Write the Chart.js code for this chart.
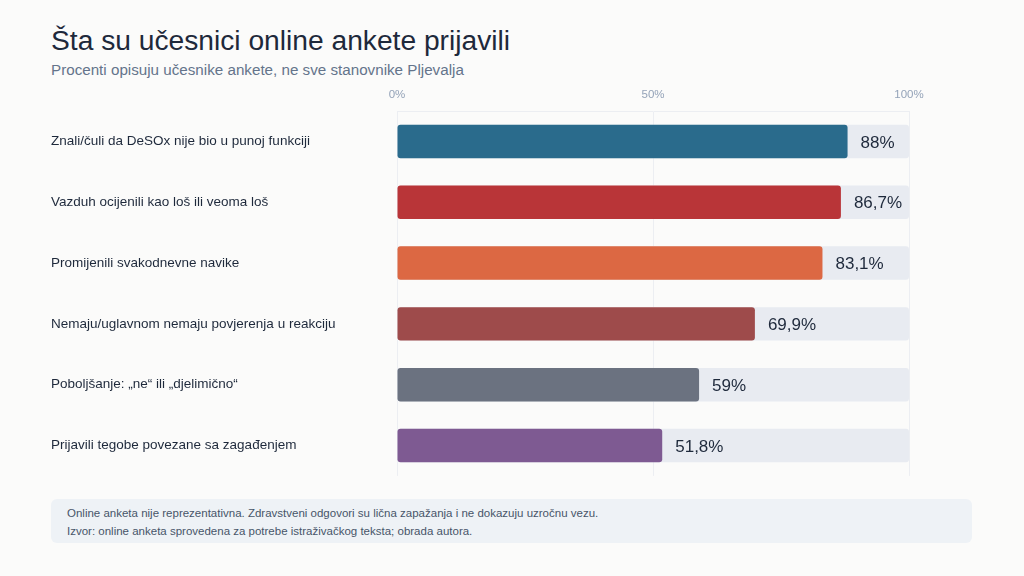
<!DOCTYPE html>
<html lang="sr">
<head>
<meta charset="utf-8">
<script src="https://cdn.jsdelivr.net/npm/chart.js@4/dist/chart.umd.min.js"></script>
<style>
  html, body { margin: 0; padding: 0; }
  body {
    width: 1024px;
    height: 576px;
    background: #fbfbfa;
    font-family: "Liberation Sans", Arial, sans-serif;
    position: relative;
    overflow: hidden;
  }
  h1 {
    position: absolute;
    left: 51px;
    top: 24px;
    margin: 0;
    font-size: 28.2px;
    font-weight: 400;
    color: #1e293b;
  }
  .subtitle {
    position: absolute;
    left: 51px;
    top: 61px;
    margin: 0;
    font-size: 15.2px;
    color: #64748b;
  }
  .chart-wrap {
    position: absolute;
    left: 51px;
    top: 80px;
    width: 921px;
    height: 407px;
  }
  .note {
    position: absolute;
    left: 51px;
    top: 499px;
    width: 921px;
    height: 44px;
    box-sizing: border-box;
    padding: 5px 16px;
    background: #eef2f6;
    border-radius: 6px;
    font-size: 11.5px;
    line-height: 18px;
    color: #475569;
  }
</style>
</head>
<body>
<h1>Šta su učesnici online ankete prijavili</h1>
<p class="subtitle">Procenti opisuju učesnike ankete, ne sve stanovnike Pljevalja</p>
<div class="chart-wrap"><canvas id="chart"></canvas></div>
<div class="note">
  Online anketa nije reprezentativna. Zdravstveni odgovori su lična zapažanja i ne dokazuju uzročnu vezu.<br>
  Izvor: online anketa sprovedena za potrebe istraživačkog teksta; obrada autora.
</div>
<script>
const categories = [
  "Znali/čuli da DeSOx nije bio u punoj funkciji",
  "Vazduh ocijenili kao loš ili veoma loš",
  "Promijenili svakodnevne navike",
  "Nemaju/uglavnom nemaju povjerenja u reakciju",
  "Poboljšanje: „ne“ ili „djelimično“",
  "Prijavili tegobe povezane sa zagađenjem",
];
const values = [88, 86.7, 83.1, 69.9, 59, 51.8];
const trackValues = [100, 100, 100, 100, 100, 100];
const barColors = ["#2a6b8c", "#b93538", "#dc6843", "#9e4b4b", "#6b7280", "#7e5a92"];
const xTicks = [0, 50, 100];

function formatPct(value) {
  return String(value).replace(".", ",") + "%";
}

const valueLabels = {
  id: "valueLabels",
  afterDatasetsDraw(chart) {
    const { ctx } = chart;
    const meta = chart.getDatasetMeta(0);
    ctx.save();
    ctx.font = '17px "Liberation Sans", Arial, sans-serif';
    ctx.fillStyle = "#1e293b";
    ctx.textAlign = "left";
    ctx.textBaseline = "middle";
    meta.data.forEach((bar, index) => {
      ctx.fillText(formatPct(values[index]), bar.x + 13, bar.y + 1.5);
    });
    ctx.restore();
  },
};

new Chart(document.getElementById("chart"), {
  type: "bar",
  data: {
    labels: categories,
    datasets: [
      {
        data: values,
        backgroundColor: barColors,
        borderRadius: 3,
        borderSkipped: false,
      },
      {
        data: trackValues,
        backgroundColor: "#e8ebf1",
        borderRadius: 3,
        borderSkipped: false,
      },
    ],
  },
  options: {
    indexAxis: "y",
    responsive: true,
    maintainAspectRatio: false,
    animation: false,
    layout: { padding: { right: 63, bottom: 8 } },
    datasets: {
      bar: { grouped: false, barPercentage: 0.55, categoryPercentage: 1 },
    },
    plugins: {
      legend: { display: false },
      tooltip: { enabled: false },
    },
    scales: {
      x: {
        position: "top",
        min: 0,
        max: 100,
        afterBuildTicks: (scale) => {
          scale.ticks = xTicks.map((value) => ({ value }));
        },
        afterFit: (scale) => {
          scale.height = 31;
        },
        ticks: {
          callback: (value) => value + "%",
          color: "#94a3b8",
          font: { family: '"Liberation Sans", Arial, sans-serif', size: 11.5 },
          padding: 4,
        },
        grid: { color: "#eceef2", tickLength: 5, drawTicks: true, tickColor: "rgba(0,0,0,0)" },
        border: { display: true, color: "#eceef2" },
      },
      y: {
        afterFit: (scale) => {
          scale.width = 346;
        },
        ticks: {
          crossAlign: "far",
          color: "#1e293b",
          font: { family: '"Liberation Sans", Arial, sans-serif', size: 13.5 },
        },
        grid: { display: false },
        border: { display: false },
      },
    },
  },
  plugins: [valueLabels],
});
</script>
</body>
</html>
